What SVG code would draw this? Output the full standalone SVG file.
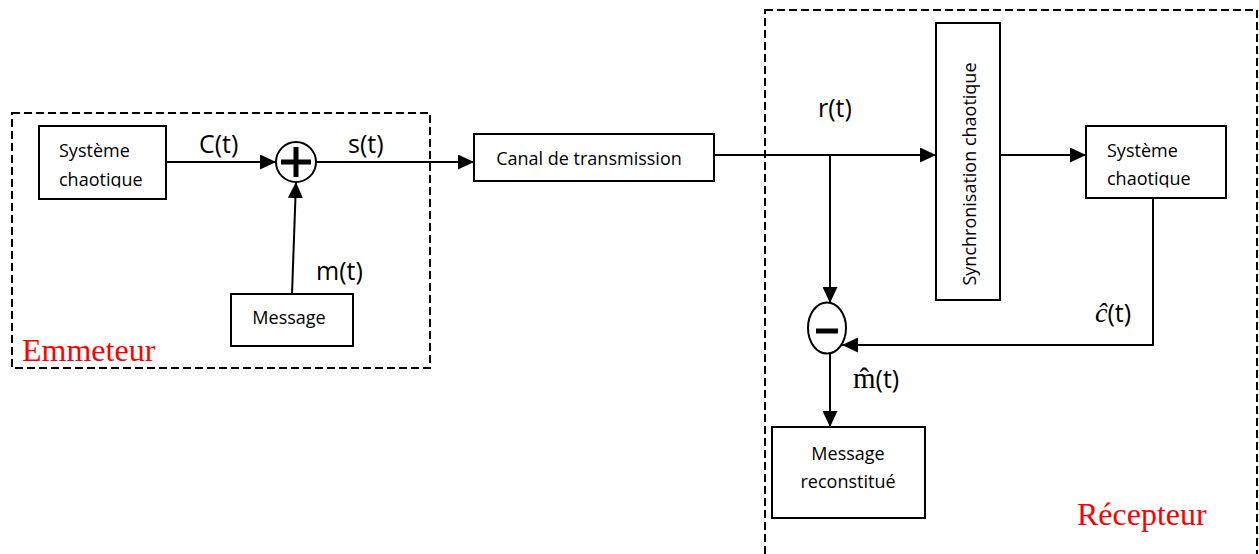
<svg xmlns="http://www.w3.org/2000/svg" width="1259" height="554" viewBox="0 0 1259 554">
  <defs>
    <marker id="arrow" markerUnits="userSpaceOnUse" markerWidth="17" markerHeight="15" refX="16" refY="7.5" orient="auto">
      <path d="M0,0 L16,7.5 L0,15 Z" fill="#000"/>
    </marker>
    <clipPath id="clipBox1"><rect x="39" y="126" width="127" height="61.5"/></clipPath>
    <clipPath id="clipBox2"><rect x="1086" y="126" width="140" height="61.5"/></clipPath>
    <style>
      .frame { fill: none; stroke: #000; stroke-width: 2; stroke-dasharray: 8 4; }
      .box { fill: #fff; stroke: #000; stroke-width: 2; }
      .sum { fill: #fff; stroke: #000; stroke-width: 2; }
      .wire { fill: none; stroke: #000; stroke-width: 2; }
      .arrowed { marker-end: url(#arrow); }
      .txt { font-family: "Open Sans", "Liberation Sans", sans-serif; font-size: 18px; fill: #000; }
      .sig { font-family: "Open Sans", "Liberation Sans", sans-serif; font-size: 25px; fill: #000; }
      .math { font-family: "Liberation Serif", "DejaVu Serif", serif; }
      .zone { font-family: "Liberation Serif", "Times New Roman", serif; font-size: 32px; fill: #ff0000; }
    </style>
  </defs>

  <rect width="1259" height="554" fill="#fff"/>

  <!-- transmitter and receiver frames -->
  <g id="emetteur-frame">
    <rect class="frame" x="12" y="113" width="418" height="255"/>
    <text class="zone" x="22" y="361">Emmeteur</text>
  </g>
  <g id="recepteur-frame">
    <rect class="frame" x="765" y="10" width="492" height="560"/>
    <text class="zone" x="1077" y="525">Récepteur</text>
  </g>

  <!-- connectors -->
  <g id="connectors">
    <line class="wire arrowed" x1="166" y1="162" x2="276" y2="162"/>
    <line class="wire arrowed" x1="292" y1="294" x2="296" y2="182"/>
    <line class="wire arrowed" x1="316" y1="162" x2="474" y2="162"/>
    <line class="wire arrowed" x1="714" y1="155" x2="936" y2="155"/>
    <line class="wire arrowed" x1="830" y1="155" x2="830" y2="303"/>
    <line class="wire arrowed" x1="1000" y1="155" x2="1086" y2="155"/>
    <polyline class="wire arrowed" points="1153,198 1153,345 842,345"/>
    <line class="wire arrowed" x1="830" y1="354" x2="830" y2="427"/>
  </g>

  <!-- signal labels -->
  <g id="labels">
    <text class="sig" x="199" y="153">C(t)</text>
    <text class="sig" x="348" y="153">s(t)</text>
    <text class="sig" x="316" y="280">m(t)</text>
    <text class="sig" x="818" y="117">r(t)</text>
    <text class="sig" x="1095" y="322"><tspan class="math" font-style="italic" font-size="28">ĉ</tspan>(t)</text>
    <text class="sig" x="853" y="388"><tspan class="math" font-size="29">m̂</tspan>(t)</text>
  </g>

  <!-- transmitter -->
  <g id="systeme-emetteur">
    <rect class="box" x="39" y="126" width="127" height="73"/>
    <g clip-path="url(#clipBox1)">
      <text class="txt" x="59" y="157">Système</text>
      <text class="txt" x="59" y="186">chaotique</text>
    </g>
  </g>
  <g id="sommateur">
    <circle class="sum" cx="296" cy="162" r="20"/>
    <path d="M281,162 H311 M296,147 V177" stroke="#000" stroke-width="5"/>
  </g>
  <g id="message">
    <rect class="box" x="231" y="294" width="122" height="52"/>
    <text class="txt" x="289" y="324" text-anchor="middle">Message</text>
  </g>

  <!-- channel -->
  <g id="canal">
    <rect class="box" x="474" y="134" width="240" height="47"/>
    <text class="txt" x="589" y="165" text-anchor="middle">Canal de transmission</text>
  </g>

  <!-- receiver -->
  <g id="synchronisation">
    <rect class="box" x="936" y="23" width="64" height="277"/>
    <text class="txt" transform="translate(976,174) rotate(-90)" text-anchor="middle">Synchronisation chaotique</text>
  </g>
  <g id="systeme-recepteur">
    <rect class="box" x="1086" y="126" width="140" height="72"/>
    <g clip-path="url(#clipBox2)">
      <text class="txt" x="1107" y="157">Système</text>
      <text class="txt" x="1107" y="185">chaotique</text>
    </g>
  </g>
  <g id="soustracteur">
    <ellipse class="sum" cx="827" cy="328" rx="19" ry="25.5"/>
    <line x1="816" y1="331" x2="838" y2="331" stroke="#000" stroke-width="5"/>
  </g>
  <g id="message-reconstitue">
    <rect class="box" x="772" y="427" width="153" height="91"/>
    <text class="txt" x="848" y="460" text-anchor="middle">Message</text>
    <text class="txt" x="848" y="488" text-anchor="middle">reconstitué</text>
  </g>
</svg>
